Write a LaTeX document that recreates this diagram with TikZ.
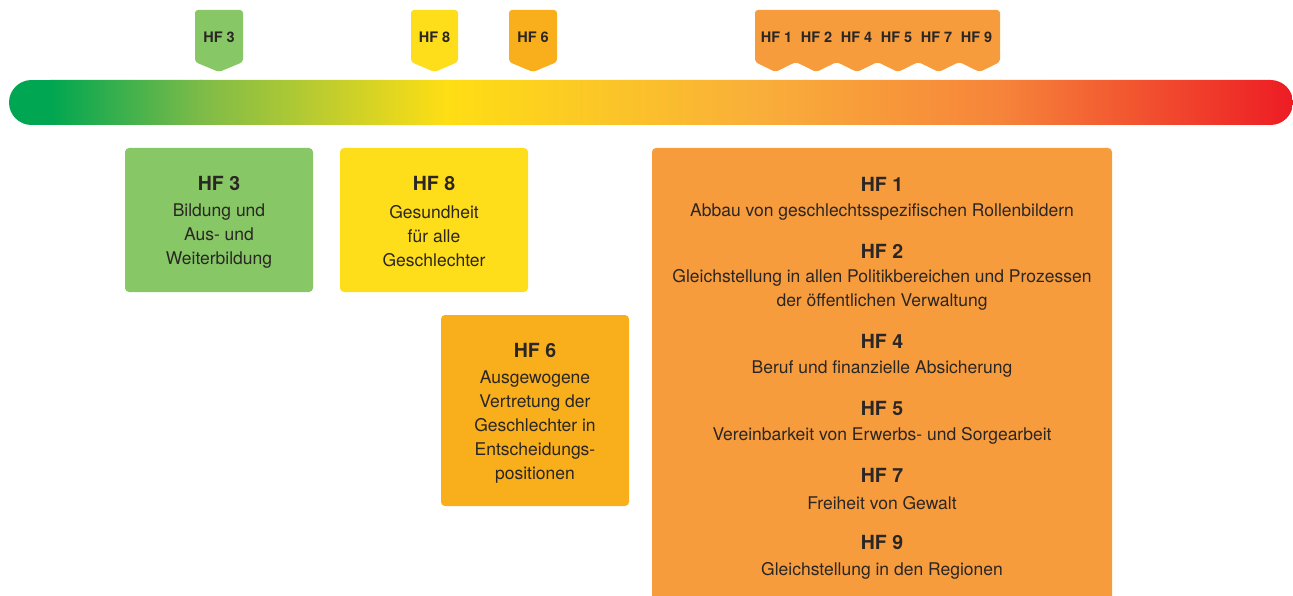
\documentclass[tikz,border=0pt]{standalone}
\usepackage{fontspec}
\setmainfont{TeX Gyre Heros}
\definecolor{txt}{HTML}{2A2624}
\definecolor{cG}{HTML}{00A651}
\definecolor{cLG}{HTML}{7DBB48}
\definecolor{cY}{HTML}{FEDE14}
\definecolor{cO}{HTML}{F9AE3A}
\definecolor{cOR}{HTML}{F6843A}
\definecolor{cR}{HTML}{ED1C24}
\definecolor{boxG}{HTML}{88C766}
\definecolor{boxY}{HTML}{FEDD1A}
\definecolor{boxO}{HTML}{F9AE1B}
\definecolor{boxOO}{HTML}{F79C3D}
\tikzset{
  hfbox/.style={rounded corners=4pt, draw=none},
  tagtxt/.style={font=\fontsize{14.5}{16}\selectfont\bfseries, text=txt, inner sep=0pt},
  headtxt/.style={font=\fontsize{19.5}{22}\selectfont\bfseries, text=txt, inner sep=0pt},
  bodytxt/.style={font=\fontsize{17.5}{24}\selectfont, text=txt, inner sep=0pt, align=center},
}
\begin{document}
\begin{tikzpicture}[x=1pt,y=-1pt]
\useasboundingbox (0,0) rectangle (1293,596);
% gradient bar
\begin{scope}
\clip[rounded corners=22.5pt] (9,80) rectangle (1293,125);
\fill[cG] (9,80) rectangle (51,125);
\shade[left color=cG,right color=cLG] (50,80) rectangle (201,125);
\shade[left color=cLG,right color=cY] (200,80) rectangle (446,125);
\shade[left color=cY,right color=cO] (445,80) rectangle (761,125);
\shade[left color=cO,right color=cOR] (760,80) rectangle (1001,125);
\shade[left color=cOR,right color=cR] (1000,80) rectangle (1293,125);
\end{scope}
% tags
\fill[boxG, rounded corners=3pt] (195,10) -- (243,10) -- (243,62) -- (219,72) -- (195,62) -- cycle;
\node[tagtxt] (t3) at (219,37) {HF 3};
\fill[boxY, rounded corners=3pt] (411,10) -- (458,10) -- (458,62) -- (434.5,72) -- (411,62) -- cycle;
\node[tagtxt] (t8) at (434.5,37) {HF 8};
\fill[boxO, rounded corners=3pt] (509,10) -- (557,10) -- (557,62) -- (533,72) -- (509,62) -- cycle;
\node[tagtxt] (t6) at (533,37) {HF 6};
\fill[boxOO, rounded corners=3pt] (755,10) -- (1000,10) -- (1000,62)
  -- (979.58,72) -- (959.17,62) -- (938.75,72) -- (918.33,62) -- (897.92,72) -- (877.5,62)
  -- (857.08,72) -- (836.67,62) -- (816.25,72) -- (795.83,62) -- (775.42,72) -- (755,62) -- cycle;
\node[tagtxt] (t1) at (776.5,37) {HF 1};
\node[tagtxt] (t2) at (816.5,37) {HF 2};
\node[tagtxt] (t4) at (856.5,37) {HF 4};
\node[tagtxt] (t5) at (896.5,37) {HF 5};
\node[tagtxt] (t7) at (936.5,37) {HF 7};
\node[tagtxt] (t9) at (976.5,37) {HF 9};
% boxes
\fill[boxG, hfbox] (125,148) rectangle (313,292);
\node[headtxt] (h3) at (219,183) {HF 3};
\node[bodytxt] (b3) at (219,236) {Bildung und\\Aus- und\\Weiterbildung};
\fill[boxY, hfbox] (340,148) rectangle (528,292);
\node[headtxt] (h8) at (434,183) {HF 8};
\node[bodytxt] (b8) at (434,236) {Gesundheit\\für alle\\Geschlechter};
\fill[boxO, hfbox] (441,315) rectangle (629,506);
\node[headtxt] (h6) at (535,350) {HF 6};
\node[bodytxt] (b6) at (535,427) {Ausgewogene\\Vertretung der\\Geschlechter in\\Entscheidungs-\\positionen};
\fill[boxOO, rounded corners=4pt] (652,620) -- (652,148) -- (1112,148) -- (1112,620);
\node[headtxt] (h1) at (882,184) {HF 1};
\node[bodytxt] (b1) at (882,212) {Abbau von geschlechtsspezifischen Rollenbildern};
\node[headtxt] (h2) at (882,251) {HF 2};
\node[bodytxt] (b2) at (882,290) {Gleichstellung in allen Politikbereichen und Prozessen\\der öffentlichen Verwaltung};
\node[headtxt] (h4) at (882,341) {HF 4};
\node[bodytxt] (b4) at (882,369) {Beruf und finanzielle Absicherung};
\node[headtxt] (h5) at (882,408) {HF 5};
\node[bodytxt] (b5) at (882,436) {Vereinbarkeit von Erwerbs- und Sorgearbeit};
\node[headtxt] (h7) at (882,475) {HF 7};
\node[bodytxt] (b7) at (882,503) {Freiheit von Gewalt};
\node[headtxt] (h9) at (882,542) {HF 9};
\node[bodytxt] (b9) at (882,571) {Gleichstellung in den Regionen};
\end{tikzpicture}
\end{document}
